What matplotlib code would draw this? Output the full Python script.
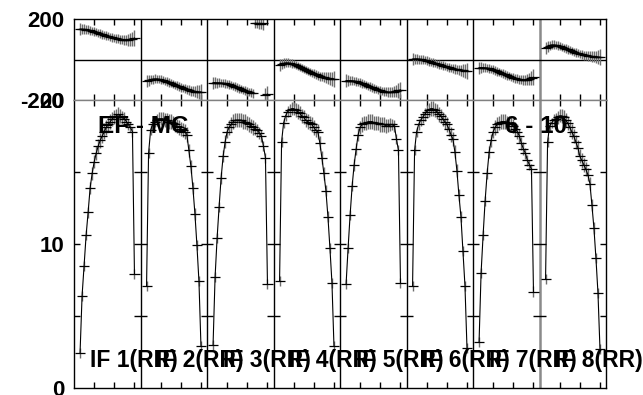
import numpy as np
import matplotlib
matplotlib.use("Agg")
import matplotlib.pyplot as plt

plt.rcParams['font.family'] = ['Liberation Sans', 'DejaVu Sans']

# Spectral channels plotted in each IF, and the channel width of one IF box
channels = np.arange(3, 31)
chan_span = 33
tick_chans = [10, 20, 30]
if_labels = ["IF 1(RR)", "IF 2(RR)", "IF 3(RR)", "IF 4(RR)",
             "IF 5(RR)", "IF 6(RR)", "IF 7(RR)", "IF 8(RR)"]
baseline_label = "EF - MC"
time_label = "6 - 10"

# Amplitude per channel (channels 3..30)
amp_if1 = [2.45, 6.4, 8.5, 10.6, 12.2, 13.9, 14.9, 15.7, 16.3, 16.8, 17.2, 17.5, 17.8, 18.1,
           18.3, 18.5, 18.7, 18.8, 18.9, 19.0, 18.9, 18.8, 18.7, 18.5, 18.3, 18.1, 17.8, 7.9]
amp_if2 = [7.1, 16.3, 17.9, 18.3, 18.5, 18.6, 18.7, 18.7, 18.7, 18.6, 18.6, 18.5, 18.5, 18.4,
           18.3, 18.2, 18.1, 18.0, 17.9, 17.8, 17.6, 16.5, 15.4, 13.9, 12.1, 9.9, 7.4, 2.9]
amp_if3 = [3.0, 7.7, 10.4, 12.6, 14.6, 16.1, 17.1, 17.8, 18.1, 18.3, 18.5, 18.6, 18.6, 18.6,
           18.6, 18.5, 18.5, 18.4, 18.3, 18.2, 18.1, 18.0, 17.9, 17.7, 17.5, 16.8, 16.0, 7.2]
amp_if4 = [7.4, 17.1, 18.4, 18.9, 19.2, 19.3, 19.4, 19.4, 19.3, 19.2, 19.1, 18.9, 18.8, 18.6,
           18.5, 18.4, 18.3, 18.1, 17.9, 17.8, 17.0, 16.0, 14.9, 13.7, 11.9, 9.7, 7.3, 2.9]
amp_if5 = [7.2, 9.7, 12.0, 14.0, 15.5, 16.6, 17.6, 18.1, 18.3, 18.4, 18.4, 18.5, 18.5, 18.5,
           18.4, 18.4, 18.4, 18.3, 18.3, 18.3, 18.2, 18.2, 18.3, 18.3, 18.2, 17.3, 16.5, 7.3]
amp_if6 = [7.1, 16.5, 17.8, 18.3, 18.6, 18.8, 19.0, 19.2, 19.3, 19.4, 19.4, 19.3, 19.2, 19.0,
           18.9, 18.7, 18.5, 18.3, 18.0, 17.6, 17.3, 16.4, 15.1, 13.4, 11.9, 9.5, 7.1, 2.8]
amp_if7 = [3.2, 8.0, 10.6, 13.0, 14.9, 16.4, 17.2, 17.8, 18.1, 18.3, 18.4, 18.5, 18.5, 18.5,
           18.4, 18.4, 18.3, 18.2, 18.0, 17.8, 17.5, 17.0, 16.6, 16.3, 15.8, 15.5, 15.2, 6.7]
amp_if8 = [7.6, 17.1, 18.2, 18.4, 18.6, 18.7, 18.8, 18.9, 18.9, 18.8, 18.6, 18.4, 18.1, 17.8,
           17.5, 17.1, 16.7, 16.1, 15.8, 15.5, 15.2, 14.8, 14.2, 12.7, 11.1, 9.0, 6.6, 2.7]

# Phase per channel in degrees (channels 3..30)
ph_if1 = [150, 150, 149, 148, 146, 144, 141, 138, 135, 131, 128, 124, 121, 118,
          115, 112, 109, 106, 104, 102, 100, 98, 97, 96, 97, 99, 102, 106]
ph_if2 = [-108, -103, -99, -97, -96, -96, -97, -99, -102, -105, -109, -113, -117, -121,
          -125, -129, -133, -137, -141, -145, -148, -151, -154, -156, -158, -159, -160, -160]
ph_if3 = [-114, -114, -115, -115, -116, -117, -118, -120, -123, -126, -130, -134, -138, -142,
          -146, -150, -154, -157, -160, -163, -166, 179, 178, 177, 177, 178, -176, -171]
ph_if4 = [-27, -22, -19, -17, -17, -18, -20, -23, -27, -31, -36, -41, -46, -51,
          -56, -61, -66, -70, -74, -78, -82, -85, -88, -90, -92, -94, -95, -96]
ph_if5 = [-104, -104, -104, -105, -106, -108, -111, -114, -118, -122, -126, -130, -134, -138,
          -142, -146, -150, -153, -156, -158, -160, -161, -161, -160, -158, -156, -153, -150]
ph_if6 = [2, 3, 3, 2, 1, -1, -3, -6, -9, -12, -15, -18, -21, -24,
          -27, -30, -33, -36, -39, -42, -45, -47, -49, -51, -53, -54, -55, -55]
ph_if7 = [-40, -40, -40, -41, -42, -44, -47, -50, -54, -58, -62, -66, -70, -74,
          -78, -82, -86, -90, -93, -96, -98, -100, -101, -101, -99, -96, -92, -88]
ph_if8 = [57, 64, 69, 72, 72, 71, 69, 66, 62, 58, 54, 50, 46, 42,
          38, 34, 31, 28, 25, 22, 20, 18, 16, 15, 14, 13, 12, 12]

# Typical one-sigma errors per channel
amp_err = [0.35, 0.35, 0.35, 0.35, 0.4, 0.4, 0.45, 0.45, 0.5, 0.5, 0.5, 0.5, 0.5, 0.5,
           0.5, 0.5, 0.5, 0.5, 0.5, 0.5, 0.5, 0.45, 0.45, 0.4, 0.4, 0.35, 0.35, 0.35]
ph_err = [30, 26, 24, 22, 22, 21, 21, 21, 21, 21, 21, 21, 21, 21,
          21, 21, 21, 21, 21, 22, 22, 23, 24, 26, 28, 31, 35, 40]

amps = [amp_if1, amp_if2, amp_if3, amp_if4, amp_if5, amp_if6, amp_if7, amp_if8]
phases = [ph_if1, ph_if2, ph_if3, ph_if4, ph_if5, ph_if6, ph_if7, ph_if8]
n_if = len(amps)

fig = plt.figure(figsize=(6.43, 3.95), dpi=100)
ax_ph = fig.add_axes([0.1151, 0.7468, 0.8274, 0.2051])
ax_amp = fig.add_axes([0.1151, 0.0177, 0.8274, 0.7291])

half_w = 2.5  # half width of the cross arms, in channels
err_col = '#6e6e6e'

for i in range(n_if):
    x = i * chan_span + channels
    a = np.array(amps[i], dtype=float)
    p = np.array(phases[i], dtype=float)
    ae = np.array(amp_err)
    pe = np.array(ph_err)

    # amplitude: connecting line plus crosses
    ax_amp.plot(x, a, color='black', lw=0.8, zorder=3)
    ax_amp.vlines(x, a - ae, a + ae, color=err_col, lw=1.0, zorder=2)
    ax_amp.hlines(a, x - half_w, x + half_w, color='black', lw=0.9, zorder=3)

    # phase: break the line at wraps
    pl = p.copy()
    jumps = np.where(np.abs(np.diff(p)) > 180)[0]
    xs = x.astype(float)
    for j in jumps[::-1]:
        pl = np.insert(pl, j + 1, np.nan)
        xs = np.insert(xs, j + 1, np.nan)
    ax_ph.plot(xs, pl, color='black', lw=0.8, zorder=3)
    ax_ph.vlines(x, p - pe, p + pe, color=err_col, lw=1.0, zorder=2)
    ax_ph.hlines(p, x - half_w, x + half_w, color='black', lw=0.9, zorder=3)

x_total = n_if * chan_span
xt = [i * chan_span + t for i in range(n_if) for t in tick_chans]

for ax in (ax_ph, ax_amp):
    ax.set_xlim(0, x_total)
    ax.set_xticks(xt)
    ax.tick_params(axis='x', direction='in', top=True, bottom=True,
                   length=4.5, width=1.0, labelbottom=False, color='black')
    for s in ax.spines.values():
        s.set_linewidth(1.0)
        s.set_color('black')
    for i in range(1, n_if):
        if i == n_if - 1:
            ax.axvline(i * chan_span, color='#8a8a8a', lw=1.8, zorder=1)
        else:
            ax.axvline(i * chan_span, color='black', lw=1.0, zorder=1)

ax_ph.set_ylim(-200, 200)
ax_ph.axhline(0, color='black', lw=1.0, zorder=1)
ax_ph.set_yticks([-200, 200])
ax_ph.set_yticklabels(['-200', '200'])

ax_amp.set_ylim(0, 20)
ax_amp.set_yticks([0, 10, 20])
ax_amp.set_yticklabels(['0', '10', '20'])
ax_ph.spines['bottom'].set_color('#808080')
ax_amp.spines['top'].set_color('#808080')

for ax in (ax_ph, ax_amp):
    ax.tick_params(axis='y', length=0, pad=7)
    for lab in ax.get_yticklabels():
        lab.set_fontsize(16)
        lab.set_fontweight('bold')

# short ticks at 5, 10, 15 on each side of every IF boundary
for d in range(n_if + 1):
    ax_amp.hlines([5, 10, 15], d * chan_span - 3, d * chan_span + 3,
                  color='black', lw=1.0, zorder=1)

txt = dict(fontweight='bold', va='baseline', ha='left', zorder=5)
ax_amp.text(11.9, 17.7, baseline_label, fontsize=17.5, **txt)
ax_amp.text(213.9, 17.7, time_label, fontsize=17.5, **txt)
for i, lab in enumerate(if_labels):
    ax_amp.text(i * chan_span + 7.7, 1.45, lab, clip_on=False, fontsize=16.5, **txt)

fig.savefig("out.png", dpi=100)
